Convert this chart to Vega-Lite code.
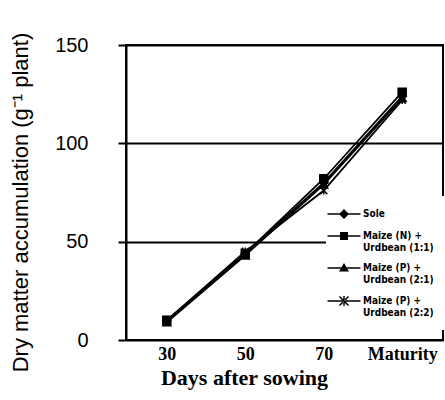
{
  "$schema": "https://vega.github.io/schema/vega-lite/v6.json",
  "width": 317,
  "height": 295,
  "autosize": "none",
  "padding": {"left": 126, "top": 45, "right": 2, "bottom": 60},
  "background": "white",
  "data": {
    "values": [
      {"days": "30", "series": "Sole", "dm": 10},
      {"days": "50", "series": "Sole", "dm": 44},
      {"days": "70", "series": "Sole", "dm": 80},
      {"days": "Maturity", "series": "Sole", "dm": 124},
      {"days": "30", "series": "Maize (N) + Urdbean (1:1)", "dm": 10},
      {"days": "50", "series": "Maize (N) + Urdbean (1:1)", "dm": 44},
      {"days": "70", "series": "Maize (N) + Urdbean (1:1)", "dm": 82},
      {"days": "Maturity", "series": "Maize (N) + Urdbean (1:1)", "dm": 126},
      {"days": "30", "series": "Maize (P) + Urdbean (2:1)", "dm": 9},
      {"days": "50", "series": "Maize (P) + Urdbean (2:1)", "dm": 43},
      {"days": "70", "series": "Maize (P) + Urdbean (2:1)", "dm": 79},
      {"days": "Maturity", "series": "Maize (P) + Urdbean (2:1)", "dm": 123},
      {"days": "30", "series": "Maize (P) + Urdbean (2:2)", "dm": 10},
      {"days": "50", "series": "Maize (P) + Urdbean (2:2)", "dm": 45},
      {"days": "70", "series": "Maize (P) + Urdbean (2:2)", "dm": 76},
      {"days": "Maturity", "series": "Maize (P) + Urdbean (2:2)", "dm": 122}
    ]
  },
  "encoding": {
    "x": {
      "field": "days",
      "type": "ordinal",
      "scale": {"type": "point", "padding": 0.52, "domain": ["30", "50", "70", "Maturity"]},
      "axis": {
        "title": "Days after sowing",
        "titleX": 118,
        "labelAngle": 0,
        "ticks": false,
        "domain": false,
        "grid": false,
        "labelFont": "Liberation Serif",
        "labelFontWeight": "bold",
        "labelFontSize": 18,
        "labelColor": "black",
        "labelPadding": 5,
        "titleFont": "Liberation Serif",
        "titleFontWeight": "bold",
        "titleFontSize": 22,
        "titleColor": "black",
        "titlePadding": 4
      }
    },
    "y": {
      "field": "dm",
      "type": "quantitative",
      "scale": {"domain": [0, 150], "nice": false},
      "axis": {
        "title": "Dry matter accumulation (g⁻¹ plant)",
        "titleY": 157,
        "values": [0, 50, 100, 150],
        "grid": true,
        "gridColor": "black",
        "gridWidth": 1.8,
        "gridOpacity": 1,
        "domainColor": "black",
        "domainWidth": 2,
        "tickColor": "black",
        "tickSize": 8,
        "tickWidth": 2,
        "labelFont": "Liberation Sans",
        "labelFontSize": 20,
        "labelColor": "black",
        "labelPadding": 30,
        "titleFont": "Liberation Sans",
        "titleFontWeight": "normal",
        "titleFontSize": 22,
        "titleColor": "black",
        "titlePadding": 22
      }
    }
  },
  "layer": [
    {
      "mark": {"type": "line", "color": "black", "strokeWidth": 1.8},
      "encoding": {"detail": {"field": "series"}}
    },
    {
      "mark": {"type": "point", "filled": true, "color": "black", "stroke": "black", "strokeWidth": 1.5, "size": 64, "opacity": 1},
      "encoding": {
        "shape": {
          "field": "series",
          "type": "nominal",
          "scale": {
            "domain": ["Sole", "Maize (N) + Urdbean (1:1)", "Maize (P) + Urdbean (2:1)", "Maize (P) + Urdbean (2:2)"],
            "range": ["diamond", "square", "triangle-up", "M-0.9,-0.9L0.9,0.9M-0.9,0.9L0.9,-0.9M0,-1V1"]
          },
          "legend": null
        }
      }
    },
    {
      "mark": {"type": "point", "filled": true, "color": "black", "size": 49, "opacity": 0},
      "encoding": {
        "shape": {
          "field": "series",
          "type": "nominal",
          "scale": {
            "domain": ["Sole", "Maize (N) + Urdbean (1:1)", "Maize (P) + Urdbean (2:1)", "Maize (P) + Urdbean (2:2)"],
            "range": [
              "M-3.3,-0.15H3.3V0.15H-3.3ZM0,-1L1,0L0,1L-1,0Z",
              "M-3.3,-0.15H3.3V0.15H-3.3ZM-0.8,-0.8H0.8V0.8H-0.8Z",
              "M-3.3,-0.15H3.3V0.15H-3.3ZM0,-1L1,0.7H-1Z",
              "M-3.3,-0.15H3.3V0.15H-3.3ZM-0.794,-1.006L1.006,0.794L0.794,1.006L-1.006,-0.794ZM-0.794,1.006L1.006,-0.794L0.794,-1.006L-1.006,0.794ZM-0.15,-1H0.15V1H-0.15Z"
            ]
          },
          "legend": {
            "title": null,
            "orient": "none",
            "legendX": 200,
            "legendY": 151,
            "padding": 12,
            "fillColor": "white",
            "strokeColor": null,
            "rowPadding": 7,
            "labelOffset": 13,
            "labelFont": "Liberation Sans Narrow, DejaVu Sans Condensed, sans-serif",
            "labelFontWeight": "bold",
            "labelFontSize": 10,
            "labelLineHeight": 10,
            "labelColor": "black",
            "labelLimit": 200,
            "symbolOpacity": 1,
            "symbolFillColor": "black",
            "labelExpr": "split(replace(datum.label, ' + ', ' +|'), '|')"
          }
        }
      }
    }
  ],
  "resolve": {"scale": {"shape": "independent"}},
  "config": {
    "view": {"stroke": "black", "strokeWidth": 2}
  }
}
